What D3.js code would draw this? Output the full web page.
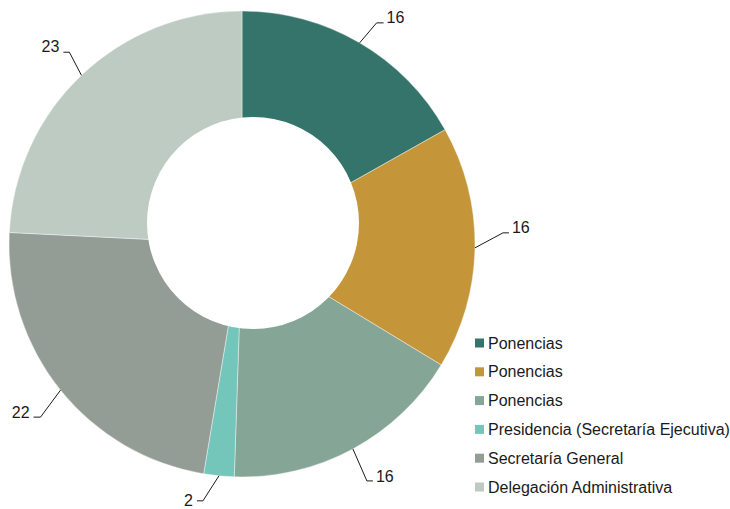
<!DOCTYPE html>
<html>
<head>
<meta charset="utf-8">
<script src="https://cdn.jsdelivr.net/npm/d3@7"></script>
<style>
  html, body { margin: 0; padding: 0; background: #fff; }
  svg { display: block; font-family: "Liberation Sans", Arial, sans-serif; }
</style>
</head>
<body>
<svg id="chart" width="730" height="509"></svg>
<script>
// ---- data ----
const categories = [
  "Ponencias",
  "Ponencias",
  "Ponencias",
  "Presidencia (Secretaría Ejecutiva)",
  "Secretaría General",
  "Delegación Administrativa"
];
const values = [16, 16, 16, 2, 22, 23];
const colors = ["#35746B", "#C5953A", "#85A696", "#75C6BA", "#949C96", "#BECBC2"];

// ---- label layout (leader elbow offsets, horizontal run, text baseline offset) ----
const labelElbow = [[17, -20], [28, -15], [14, 32], [-16, 25], [-20, 27], [-12, -23]];
const labelRun = [7, 6, 6, -6, -7, -6];
const labelDy = [0.5, 0, 1, 5.5, 1, 0];

// ---- layout ----
const cx = 242, cy = 244, R = 233;
const holeCx = 253, holeCy = 223, holeR = 106;
const fontSize = 16;

const svg = d3.select("#chart");
const g = svg.append("g").attr("transform", `translate(${cx},${cy})`);

const pie = d3.pie().sort(null).value(d => d)(values);
const arc = d3.arc().innerRadius(0).outerRadius(R);

g.selectAll("path.slice")
  .data(pie)
  .join("path")
  .attr("class", "slice")
  .attr("d", arc)
  .attr("fill", (d, i) => colors[i])
  .attr("stroke", "#ffffff")
  .attr("stroke-width", 0.4);

// hole
svg.append("circle")
  .attr("cx", holeCx).attr("cy", holeCy).attr("r", holeR)
  .attr("fill", "#ffffff");

// leader lines and labels
pie.forEach((d, i) => {
  const mid = (d.startAngle + d.endAngle) / 2;
  const sx = Math.sin(mid) * R, sy = -Math.cos(mid) * R;
  const ex = sx + labelElbow[i][0], ey = sy + labelElbow[i][1];
  const hx = ex + labelRun[i];
  g.append("polyline")
    .attr("points", `${sx},${sy} ${ex},${ey} ${hx},${ey}`)
    .attr("fill", "none")
    .attr("stroke", "#1a1a1a")
    .attr("stroke-width", 1);
  const right = labelRun[i] > 0;
  g.append("text")
    .attr("x", right ? hx + 3 : hx - 4)
    .attr("y", ey + labelDy[i])
    .attr("text-anchor", right ? "start" : "end")
    .attr("font-size", fontSize)
    .attr("fill", "#1a1a1a")
    .text(values[i]);
});

// legend
const legend = svg.append("g").attr("transform", "translate(475,343)");
const rowH = 28.8;
categories.forEach((c, i) => {
  const row = legend.append("g").attr("transform", `translate(0,${i * rowH})`);
  row.append("rect").attr("x", 0).attr("y", -4.5).attr("width", 9).attr("height", 9)
    .attr("fill", colors[i]);
  row.append("text").attr("x", 13).attr("y", 5.5)
    .attr("font-size", fontSize).attr("fill", "#1a1a1a").text(c);
});
</script>
</body>
</html>
